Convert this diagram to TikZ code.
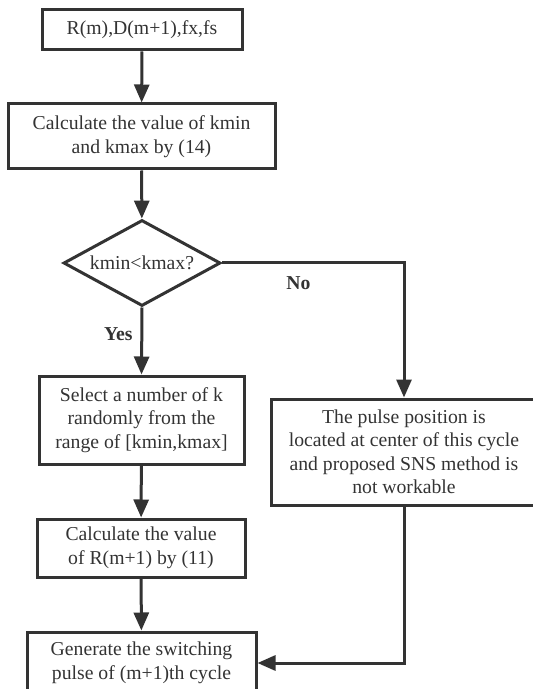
\documentclass[tikz,border=0pt]{standalone}
\usepackage{fontspec}
\setmainfont{Liberation Serif}
\usetikzlibrary{shapes.geometric,arrows.meta}
\definecolor{ink}{HTML}{333333}

\begin{document}
\begin{tikzpicture}[x=0.5pt, y=-0.5pt,
        box/.style={draw=ink, line width=1.5pt, align=center, inner sep=0pt,
            text=ink, font=\fontsize{9.85}{11.75}\selectfont},
        decision/.style={diamond, draw=ink, line width=1.5pt, inner sep=0pt,
            aspect=1.8, text=ink, font=\fontsize{9.85}{11.75}\selectfont},
        lbl/.style={text=ink, font=\bfseries\fontsize{9.85}{11.75}\selectfont},
        arr/.style={draw=ink, line width=1.5pt, -{Triangle[length=9pt, width=7.5pt]}}]
        \useasboundingbox (0, 0) rectangle (533, 689);

        % Input values
        \node [box, minimum width=100pt, minimum height=20pt] (in) at (142, 30)
            {R(m),D(m+1),fx,fs};

        % kmin / kmax
        \node [box, minimum width=133.5pt, minimum height=32.5pt] (kcalc) at (141.5, 136.5)
            {Calculate the value of kmin\\and kmax by (14)};

        % Test
        \node [decision, minimum width=78.5pt, minimum height=43pt] (test) at (142, 263)
            {kmin<kmax?};

        % Yes branch
        \node [box, minimum width=102.5pt, minimum height=44pt] (pick) at (141.5, 420)
            {Select a number of k\\randomly from the\\range of [kmin,kmax]};
        \node [box, minimum width=104pt, minimum height=29pt] (rcalc) at (141, 548)
            {Calculate the value\\of R(m+1) by (11)};

        % No branch
        \node [box, minimum width=133pt, minimum height=53pt] (centre) at (404, 452)
            {The pulse position is\\located at center of this cycle\\and proposed SNS method is\\not workable};

        % Output
        \node [box, minimum width=114.5pt, minimum height=31pt] (pulse) at (141.5, 663)
            {Generate the switching\\pulse of (m+1)th cycle};

        % Connectors
        \draw [arr] (in) -- (kcalc);
        \draw [arr] (kcalc) -- (test);
        \draw [arr] (test.south) -- (pick.north) node [lbl, pos=0.4, left=0.5pt] {Yes};
        \draw [arr] (test.east) -| (centre.north) node [lbl, pos=0.21, below=2.5pt] {No};
        \draw [arr] (pick) -- (rcalc);
        \draw [arr] (rcalc) -- (pulse);
        \draw [arr] (centre.south) |- (pulse.east);
    \end{tikzpicture}
\end{document}
